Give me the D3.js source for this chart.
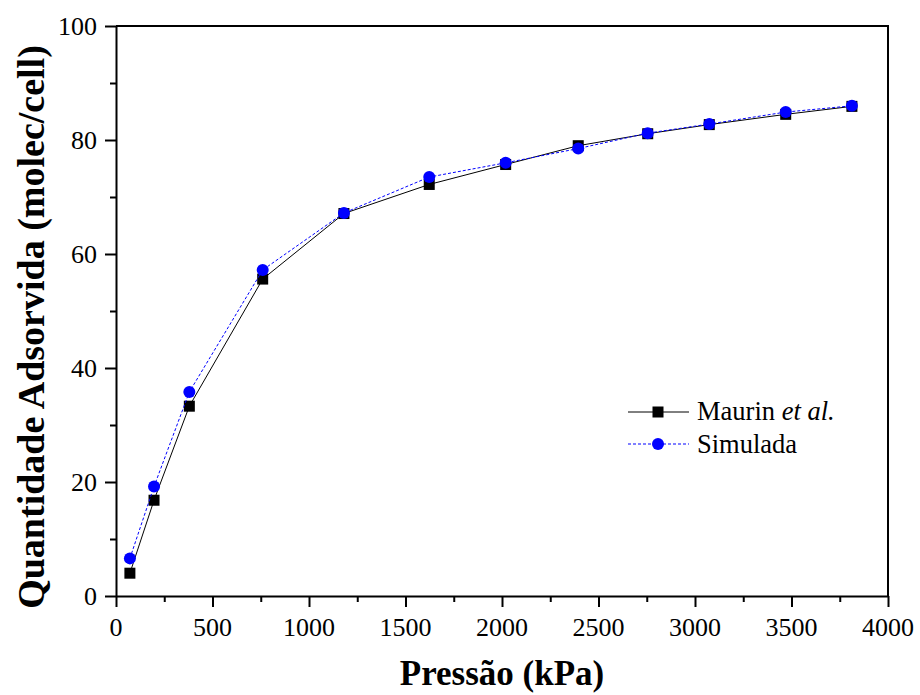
<!DOCTYPE html>
<html>
<head>
<meta charset="utf-8">
<script src="https://cdn.jsdelivr.net/npm/d3@7"></script>
<style>
  body { margin: 0; background: #fff; }
  svg { display: block; font-family: "Liberation Serif", "Times New Roman", serif; }
</style>
</head>
<body>
<svg id="chart" width="920" height="695"></svg>
<script>
const pressure = [72, 197, 380, 760, 1181, 1623, 2019, 2395, 2755, 3074, 3470, 3813];
const maurin   = [4.0, 16.8, 33.3, 55.6, 67.1, 72.2, 75.7, 79.0, 81.1, 82.7, 84.5, 85.9];
const simulada = [6.6, 19.2, 35.8, 57.2, 67.2, 73.5, 76.0, 78.5, 81.2, 82.8, 84.9, 86.0];

const xTicks = [0, 500, 1000, 1500, 2000, 2500, 3000, 3500, 4000];
const yTicks = [0, 20, 40, 60, 80, 100];

const svg = d3.select('#chart');
const plotL = 116, plotR = 888, plotT = 26, plotB = 596;

const x = d3.scaleLinear().domain([0, 4000]).range([plotL, plotR]);
const y = d3.scaleLinear().domain([0, 100]).range([plotB, plotT]);

// minor ticks first, then major axis on top
const xMinor = d3.range(250, 4000, 500);
const yMinor = d3.range(10, 100, 20);

svg.append('g')
    .attr('transform', `translate(0,${plotB})`)
    .call(d3.axisBottom(x).tickValues(xMinor).tickSize(6).tickFormat(''))
    .call(g => g.select('.domain').remove());
svg.append('g')
    .attr('transform', `translate(${plotL},0)`)
    .call(d3.axisLeft(y).tickValues(yMinor).tickSize(6).tickFormat(''))
    .call(g => g.select('.domain').remove());

svg.append('g')
    .attr('transform', `translate(0,${plotB})`)
    .call(d3.axisBottom(x).tickValues(xTicks).tickFormat('').tickSize(11).tickSizeOuter(0));
svg.append('g')
    .attr('transform', `translate(${plotL},0)`)
    .call(d3.axisLeft(y).tickValues(yTicks).tickFormat('').tickSize(11).tickSizeOuter(0));

svg.selectAll('.tick line').attr('stroke', '#000').attr('stroke-width', 2);
svg.selectAll('.domain').attr('stroke', '#000').attr('stroke-width', 2);

// tick labels in serif
svg.append('g')
    .selectAll('text')
    .data(xTicks)
    .join('text')
    .attr('x', d => x(d))
    .attr('y', plotB + 40)
    .attr('text-anchor', 'middle')
    .attr('font-size', 26)
    .text(d => d);

svg.append('g')
    .selectAll('text')
    .data(yTicks)
    .join('text')
    .attr('x', plotL - 19)
    .attr('y', d => y(d) + 9)
    .attr('text-anchor', 'end')
    .attr('font-size', 26)
    .text(d => d);

// frame: top and right
svg.append('path')
    .attr('d', `M${plotL},${plotT}H${plotR}V${plotB}`)
    .attr('fill', 'none')
    .attr('stroke', '#000')
    .attr('stroke-width', 2);

// axis titles
svg.append('text')
    .attr('x', (plotL + plotR) / 2)
    .attr('y', 685)
    .attr('text-anchor', 'middle')
    .attr('font-weight', 'bold')
    .attr('font-size', 35)
    .text('Pressão (kPa)');

svg.append('text')
    .attr('transform', `translate(44,327) rotate(-90)`)
    .attr('text-anchor', 'middle')
    .attr('font-weight', 'bold')
    .attr('font-size', 38)
    .text('Quantidade Adsorvida (molec/cell)');

// series
const mData = pressure.map((p, i) => [p, maurin[i]]);
const sData = pressure.map((p, i) => [p, simulada[i]]);
const line = d3.line().x(d => x(d[0])).y(d => y(d[1]));

svg.append('path')
    .datum(mData)
    .attr('d', line)
    .attr('fill', 'none')
    .attr('stroke', '#000')
    .attr('stroke-width', 1);

svg.selectAll('.sq')
    .data(mData)
    .join('rect')
    .attr('class', 'sq')
    .attr('x', d => x(d[0]) - 5.5)
    .attr('y', d => y(d[1]) - 5.5)
    .attr('width', 11)
    .attr('height', 11)
    .attr('fill', '#000');

svg.append('path')
    .datum(sData)
    .attr('d', line)
    .attr('fill', 'none')
    .attr('stroke', '#0000ff')
    .attr('stroke-width', 1)
    .attr('stroke-dasharray', '3,2');

svg.selectAll('.dot')
    .data(sData)
    .join('circle')
    .attr('class', 'dot')
    .attr('cx', d => x(d[0]))
    .attr('cy', d => y(d[1]))
    .attr('r', 6)
    .attr('fill', '#0000ff');

// legend
const legend = svg.append('g').attr('transform', 'translate(628,412)');
legend.append('line')
    .attr('x1', 0).attr('x2', 61).attr('y1', 0).attr('y2', 0)
    .attr('stroke', '#000').attr('stroke-width', 1);
legend.append('rect')
    .attr('x', 30 - 5.5).attr('y', -5.5).attr('width', 11).attr('height', 11)
    .attr('fill', '#000');
const t1 = legend.append('text')
    .attr('x', 69).attr('y', 8)
    .attr('font-size', 26.5);
t1.append('tspan').text('Maurin ');
t1.append('tspan').attr('font-style', 'italic').text('et al.');

legend.append('line')
    .attr('x1', 0).attr('x2', 61).attr('y1', 32).attr('y2', 32)
    .attr('stroke', '#0000ff').attr('stroke-width', 1)
    .attr('stroke-dasharray', '3,2');
legend.append('circle')
    .attr('cx', 30).attr('cy', 32).attr('r', 6)
    .attr('fill', '#0000ff');
legend.append('text')
    .attr('x', 69).attr('y', 41)
    .attr('font-size', 26.5)
    .text('Simulada');
</script>
</body>
</html>
